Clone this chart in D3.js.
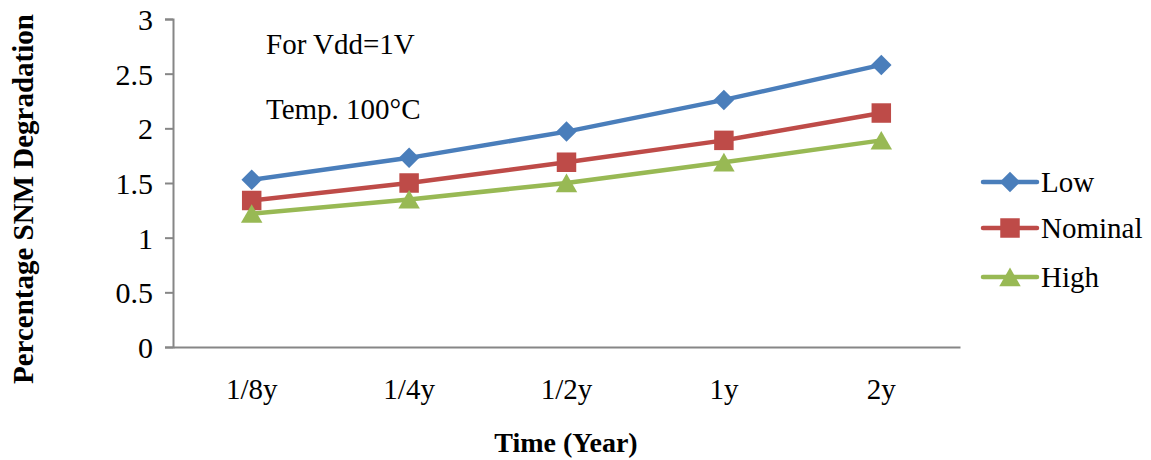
<!DOCTYPE html>
<html>
<head>
<meta charset="utf-8">
<script src="https://cdn.jsdelivr.net/npm/d3@7"></script>
<style>
  body { margin: 0; background: #fff; }
  text { font-family: "Liberation Serif", "Times New Roman", serif; fill: #000; }
</style>
</head>
<body>
<svg id="chart" width="1151" height="460"></svg>
<script>
// data
const periods = ["1/8y", "1/4y", "1/2y", "1y", "2y"];
const lowValues = [1.53, 1.73, 1.97, 2.26, 2.58];
const nominalValues = [1.34, 1.50, 1.69, 1.89, 2.14];
const highValues = [1.22, 1.35, 1.50, 1.69, 1.89];
const yTicks = [0, 0.5, 1, 1.5, 2, 2.5, 3];

// marker shapes: diamond = square turned 45deg
const series = [
    { name: "Low", values: lowValues, color: "#4a7ebb", symbol: d3.symbolSquare, size: 210, rot: 45, dy: 0 },
    { name: "Nominal", values: nominalValues, color: "#be4b48", symbol: d3.symbolSquare, size: 380, rot: 0, dy: 0 },
    { name: "High", values: highValues, color: "#98b954", symbol: d3.symbolTriangle, size: 200, rot: 0, dy: 3 }
];

const svg = d3.select("svg#chart");
const margin = { left: 173, top: 19, right: 191, bottom: 113 };
const width = 1151 - margin.left - margin.right;
const height = 460 - margin.top - margin.bottom;

const chart = svg.append("g")
    .attr("transform", `translate(${margin.left}, ${margin.top})`);

// scales
const xScale = d3.scaleBand().domain(periods).range([0, width]);
const yScale = d3.scaleLinear().domain([0, 3]).range([height, 0]);

// y axis
const leftAxis = d3.axisLeft(yScale).tickValues(yTicks).tickSize(8).tickPadding(12)
    .tickFormat(d3.format("~g"));
const yAxisG = chart.append("g").call(leftAxis);
yAxisG.select(".domain").attr("stroke", "#868686").attr("stroke-width", 2);
yAxisG.selectAll(".tick line").attr("stroke", "#868686").attr("stroke-width", 2);
yAxisG.selectAll("text").style("font-size", "30px")
    .style("font-family", "Liberation Serif").attr("dy", "0.35em");

// x axis
const bottomAxis = d3.axisBottom(xScale).tickSize(0).tickPadding(31);
const xAxisG = chart.append("g").attr("transform", `translate(0, ${height})`).call(bottomAxis);
xAxisG.select(".domain").attr("stroke", "#868686").attr("stroke-width", 2);
xAxisG.selectAll("text").style("font-size", "29px").style("font-family", "Liberation Serif");

// lines + markers
const cx = (i) => xScale(periods[i]) + xScale.bandwidth() / 2;
const line = d3.line()
    .x((d, i) => cx(i))
    .y(d => yScale(d));

series.forEach(s => {
    chart.append("path")
        .datum(s.values)
        .attr("fill", "none")
        .attr("stroke", s.color)
        .attr("stroke-width", 4.5)
        .attr("stroke-linejoin", "round")
        .attr("d", line);
    chart.selectAll(null)
        .data(s.values)
        .join("path")
        .attr("d", d3.symbol().type(s.symbol).size(s.size))
        .attr("fill", s.color)
        .attr("transform", (d, i) =>
            `translate(${cx(i)}, ${yScale(d) + s.dy}) rotate(${s.rot})`);
});

// annotations
chart.append("text").text("For Vdd=1V")
    .attr("x", 93).attr("y", 35).style("font-size", "29px");
chart.append("text").text("Temp. 100°C")
    .attr("x", 93).attr("y", 100).style("font-size", "29px");

// legend
const legend = svg.append("g").attr("transform", "translate(983, 0)");
const legendY = [182, 228, 277];
series.forEach((s, i) => {
    const g = legend.append("g").attr("transform", `translate(0, ${legendY[i]})`);
    g.append("line")
        .attr("x1", 0).attr("x2", 54)
        .attr("stroke", s.color).attr("stroke-width", 4.5).attr("stroke-linecap", "round");
    g.append("path")
        .attr("d", d3.symbol().type(s.symbol).size(s.size))
        .attr("fill", s.color)
        .attr("transform", `translate(27, ${s.dy}) rotate(${s.rot})`);
    g.append("text").text(s.name)
        .attr("x", 58).attr("dy", "0.35em").style("font-size", "29px");
});

// axis titles
svg.append("text").text("Time (Year)")
    .attr("x", 566).attr("y", 452)
    .attr("text-anchor", "middle")
    .style("font-size", "28px").style("font-weight", "bold");
svg.append("text").text("Percentage SNM Degradation")
    .attr("transform", "translate(33, 199) rotate(-90)")
    .attr("text-anchor", "middle")
    .style("font-size", "29px").style("font-weight", "bold");
</script>
</body>
</html>
